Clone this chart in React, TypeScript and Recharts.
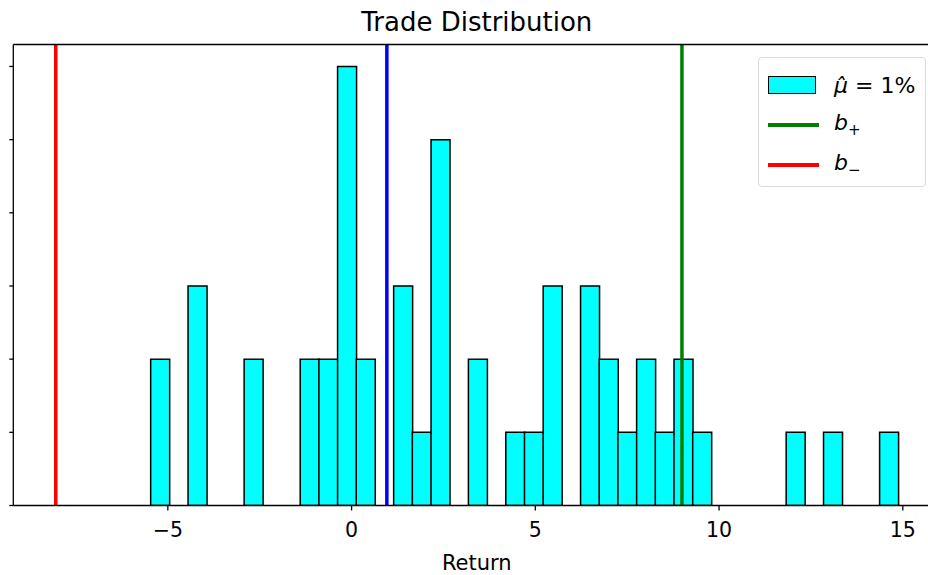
import React from "react";
import { ComposedChart, Bar, XAxis, YAxis, ReferenceLine, Legend } from "recharts";

// histogram: 40 bins
const binStart = -5.467;
const binWidth = 0.5086;
const binCounts = [
  2, 0, 3, 0, 0, 2, 0, 0, 2, 2,
  6, 2, 0, 3, 1, 5, 0, 2, 0, 1,
  1, 3, 0, 3, 2, 1, 2, 1, 2, 1,
  0, 0, 0, 0, 1, 0, 1, 0, 0, 1,
];

const muHat = 0.96;
const bPlus = 8.99;
const bMinus = -8.05;

const xLimits: [number, number] = [-9.205, 16.02];
const yLimits: [number, number] = [0, 6.3];
const xTicks = [-5, 0, 5, 10, 15];
const yTicks = [0, 1, 2, 3, 4, 5, 6];

const bins = binCounts.map((count, i) => ({ mid: binStart + (i + 0.5) * binWidth, count }));

const fmtX = (v: number) => (v < 0 ? `\u2212${Math.abs(v)}` : `${v}`);

function TradeLegend() {
  const row = { height: 40, display: "flex", alignItems: "center", position: "relative" as const };
  const txt = { position: "absolute" as const, left: 75, fontSize: 22, color: "#000", whiteSpace: "nowrap" as const };
  return (
    <div
      style={{
        width: 168, height: 130, boxSizing: "border-box", border: "1px solid #dcdcdc", borderRadius: 4,
        background: "rgba(255,255,255,0.8)", paddingTop: 7, fontFamily: "DejaVu Sans",
      }}
    >
      <div style={row}>
        <div style={{ marginLeft: 9, width: 48, height: 18, background: "#00ffff", border: "1.5px solid #000", boxSizing: "border-box" }} />
        <span style={txt}><i>μ̂</i> = 1%</span>
      </div>
      <div style={row}>
        <div style={{ marginLeft: 9, width: 51, height: 4, background: "#008000" }} />
        <span style={txt}><i>b</i><sub style={{ fontSize: 15 }}>+</sub></span>
      </div>
      <div style={row}>
        <div style={{ marginLeft: 9, width: 51, height: 4, background: "#ff0000" }} />
        <span style={txt}><i>b</i><sub style={{ fontSize: 15 }}>−</sub></span>
      </div>
    </div>
  );
}

export default function App() {
  const axisStroke = { stroke: "#000", strokeWidth: 1.3 };
  return (
    <div
      style={{
        position: "absolute", left: 0, top: 0, width: 928, height: 575, overflow: "hidden",
        background: "#fff", fontFamily: "DejaVu Sans",
      }}
    >
      <div
        style={{
          position: "absolute", left: 0, top: 8.6, width: 953.6, textAlign: "center",
          fontSize: 26, lineHeight: "26px", color: "#000",
        }}
      >
        Trade Distribution
      </div>
      <ComposedChart
        width={950}
        height={575}
        data={bins}
        margin={{ top: 43.5, right: 9.7, bottom: 0, left: 12.3 }}
        barCategoryGap={0}
        barGap={0}
      >
        <XAxis
          xAxisId="x"
          type="number"
          dataKey="mid"
          domain={xLimits}
          ticks={xTicks}
          allowDataOverflow
          height={69.5}
          tickSize={5}
          tickMargin={12}
          tickFormatter={fmtX}
          tick={{ fill: "#000", fontSize: 20.5 }}
          axisLine={axisStroke}
          tickLine={axisStroke}
          label={{ value: "Return", position: "insideBottom", offset: 5, style: { fill: "#000", fontSize: 21 } }}
        />
        <XAxis
          xAxisId="top"
          orientation="top"
          type="number"
          domain={xLimits}
          allowDataOverflow
          height={1}
          tick={false}
          tickLine={false}
          axisLine={axisStroke}
        />
        <YAxis
          type="number"
          domain={yLimits}
          ticks={yTicks}
          allowDataOverflow
          width={1}
          tickSize={4}
          tickFormatter={() => ""}
          axisLine={axisStroke}
          tickLine={axisStroke}
        />
        <Bar xAxisId="x" dataKey="count" fill="#00ffff" stroke="#000" strokeWidth={1.5} isAnimationActive={false} />
        <ReferenceLine xAxisId="x" x={muHat} stroke="#0000ff" strokeWidth={3.5} />
        <ReferenceLine xAxisId="x" x={bPlus} stroke="#008000" strokeWidth={3.5} />
        <ReferenceLine xAxisId="x" x={bMinus} stroke="#ff0000" strokeWidth={3.5} />
        <Legend
          layout="horizontal"
          verticalAlign="middle"
          align="center"
          wrapperStyle={{ left: 758, top: 57, width: 168, height: 130 }}
          content={() => <TradeLegend />}
        />
      </ComposedChart>
    </div>
  );
}
